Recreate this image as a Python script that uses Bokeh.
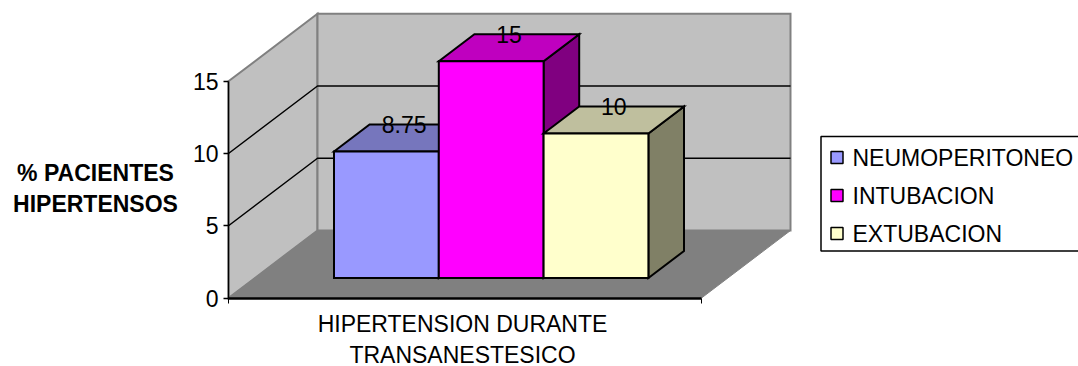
from bokeh.core.properties import value
from bokeh.embed import file_html
from bokeh.models import FixedTicker, Range1d
from bokeh.plotting import figure
from bokeh.resources import INLINE

# Series shown in the chart
series = ["NEUMOPERITONEO", "INTUBACION", "EXTUBACION"]
percentages = [8.75, 15, 10]
value_labels = ["8.75", "15", "10"]
y_ticks = [0, 5, 10, 15]
category_lines = ["HIPERTENSION DURANTE", "TRANSANESTESICO"]
y_title_lines = ["% PACIENTES", "HIPERTENSOS"]

front_colors = ["#9999FF", "#FF00FF", "#FFFFCC"]
top_colors = ["#7676BD", "#BF00BF", "#BFBF9E"]
side_colors = ["#5F5F80", "#800080", "#808066"]

WIDTH, HEIGHT = 1078, 366
FONT = value("Liberation Sans")
FONT_SIZE = "23px"

# Oblique projection of the 3D box, horizontal in pixels, vertical in value units
PX_PER_UNIT = 14.45
ZERO_PX = 297.5
PLOT_LEFT, PLOT_RIGHT = 228, 701
DEPTH_X, DEPTH_Y = 89, 67.5 / PX_PER_UNIT
AXIS_TOP = 15
BAR_DEPTH_START, BAR_DEPTH = 20 / 67.5, 27 / 67.5
BAR_LEFT, BAR_WIDTH = 333.5 - BAR_DEPTH_START * DEPTH_X, 104.8


def project(x, v, depth):
    return x + depth * DEPTH_X, v + depth * DEPTH_Y


def polygon(points, color, line_color="black", line_width=2):
    xs, ys = zip(*points)
    p.patch(list(xs), list(ys), fill_color=color, line_color=line_color,
            line_width=line_width, line_join="miter")


def to_val(px):
    return (ZERO_PX - px) / PX_PER_UNIT


p = figure(width=WIDTH, height=HEIGHT, output_backend="svg", toolbar_location=None,
           x_range=Range1d(0, WIDTH),
           y_range=Range1d(-(HEIGHT - ZERO_PX) / PX_PER_UNIT, ZERO_PX / PX_PER_UNIT),
           min_border=0, outline_line_color=None, background_fill_color="white")
p.grid.visible = False

# Value axis sits on the front-left edge of the box
p.yaxis.fixed_location = PLOT_LEFT
p.yaxis.ticker = FixedTicker(ticks=y_ticks)
p.yaxis.bounds = (0, AXIS_TOP)
p.yaxis.axis_line_color = "black"
p.yaxis.axis_line_width = 1.5
p.yaxis.major_tick_line_color = "black"
p.yaxis.major_tick_line_width = 1.5
p.yaxis.major_tick_out = 5
p.yaxis.major_tick_in = 0
p.yaxis.minor_tick_line_color = None
p.yaxis.major_label_text_font = "Liberation Sans"
p.yaxis.major_label_text_font_size = FONT_SIZE
p.yaxis.major_label_text_color = "black"
p.yaxis.major_label_standoff = 5

# Category axis only marks the two ends of the floor
p.xaxis.fixed_location = 0
p.xaxis.ticker = FixedTicker(ticks=[PLOT_LEFT, PLOT_RIGHT])
p.xaxis.bounds = (PLOT_LEFT, PLOT_RIGHT)
p.xaxis.axis_line_color = "black"
p.xaxis.axis_line_width = 2.5
p.xaxis.major_tick_line_color = "black"
p.xaxis.major_tick_line_width = 1
p.xaxis.major_tick_out = 5
p.xaxis.major_tick_in = 0
p.xaxis.minor_tick_line_color = None
p.xaxis.major_label_overrides = {PLOT_LEFT: "", PLOT_RIGHT: ""}

# Walls and floor
wall_line = "#808080"
polygon([project(PLOT_LEFT, 0, 0), project(PLOT_LEFT, AXIS_TOP, 0),
         project(PLOT_LEFT, AXIS_TOP, 1), project(PLOT_LEFT, 0, 1)], "#C0C0C0", wall_line)
polygon([project(PLOT_LEFT, 0, 1), project(PLOT_LEFT, AXIS_TOP, 1),
         project(PLOT_RIGHT, AXIS_TOP, 1), project(PLOT_RIGHT, 0, 1)], "#C0C0C0", wall_line)
polygon([project(PLOT_LEFT, 0, 0), project(PLOT_LEFT, 0, 1),
         project(PLOT_RIGHT, 0, 1), project(PLOT_RIGHT, 0, 0)], "#808080", wall_line, 1)

# Gridlines run along the side wall and across the back wall
for tick in y_ticks[1:-1]:
    gx, gy = zip(project(PLOT_LEFT, tick, 0), project(PLOT_LEFT, tick, 1),
                 project(PLOT_RIGHT, tick, 1))
    p.line(list(gx), list(gy), line_color="black", line_width=1.5)

# Bars: each box is side face, top face, then front face, left to right
d0, d1 = BAR_DEPTH_START, BAR_DEPTH_START + BAR_DEPTH
for i, pct in enumerate(percentages):
    left = BAR_LEFT + i * BAR_WIDTH
    right = left + BAR_WIDTH
    polygon([project(right, 0, d0), project(right, pct, d0),
             project(right, pct, d1), project(right, 0, d1)], side_colors[i])
    polygon([project(left, pct, d0), project(left, pct, d1),
             project(right, pct, d1), project(right, pct, d0)], top_colors[i])
    polygon([project(left, 0, d0), project(left, pct, d0),
             project(right, pct, d0), project(right, 0, d0)], front_colors[i])

# Value labels straddle the rear edge of each bar's top face
for i, (pct, label) in enumerate(zip(percentages, value_labels)):
    lx, _ = project(BAR_LEFT + (i + 0.5) * BAR_WIDTH, pct, (d0 + d1) / 2)
    _, ly = project(0, pct, d1)
    p.text([lx], [ly], text=[label], text_font=FONT, text_font_size=FONT_SIZE,
           text_color="black", text_align="center", text_baseline="middle")

# Category caption under the floor
for line, px in zip(category_lines, (323, 354)):
    p.text([462], [to_val(px)], text=[line], text_font=FONT, text_font_size=FONT_SIZE,
           text_color="black", text_align="center", text_baseline="middle")

# Value-axis title
for line, px in zip(y_title_lines, (172, 203)):
    p.text([95], [to_val(px)], text=[line], text_font=FONT, text_font_size=FONT_SIZE,
           text_font_style="bold", text_color="black",
           text_align="center", text_baseline="middle")

# Legend box, swatches and labels
p.quad(left=[820.5], right=[1085], top=[to_val(136)], bottom=[to_val(250.5)],
       fill_color="white", line_color="black", line_width=1.5)
for name, color, cy in zip(series, front_colors, (157, 195, 233)):
    p.quad(left=[830.5], right=[842.5], top=[to_val(cy - 6)], bottom=[to_val(cy + 6)],
           fill_color=color, line_color="black", line_width=1.5)
    p.text([852], [to_val(cy)], text=[name], text_font=FONT, text_font_size=FONT_SIZE,
           text_color="black", text_align="left", text_baseline="middle")

open("out.html", "w").write(file_html(p, INLINE))
